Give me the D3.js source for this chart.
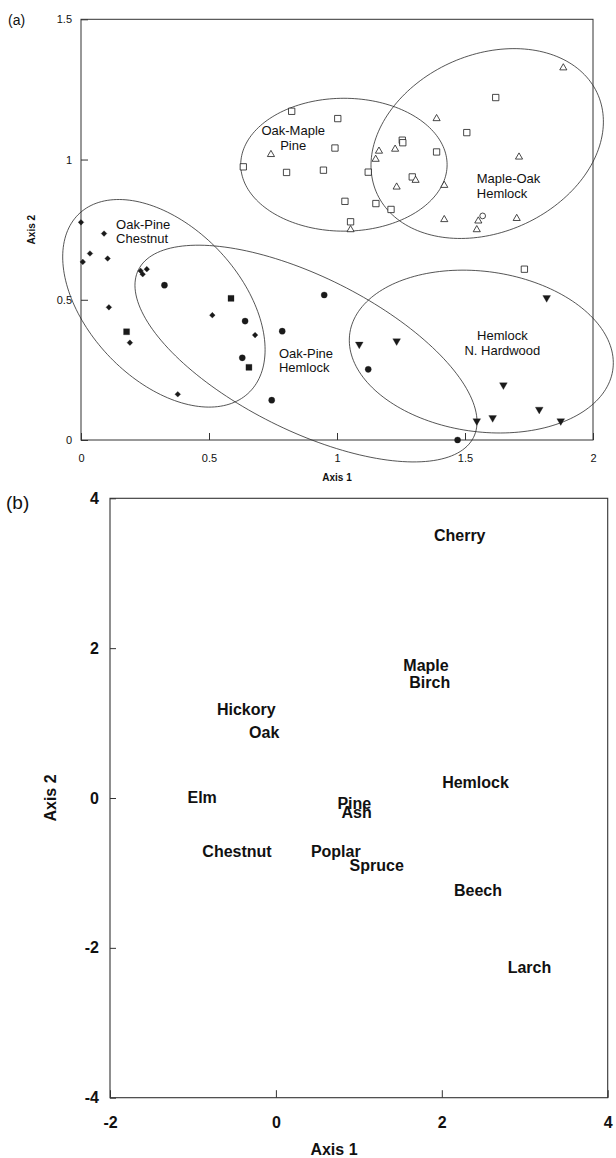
<!DOCTYPE html>
<html><head><meta charset="utf-8">
<script src="https://cdn.jsdelivr.net/npm/d3@7"></script>
<style>
html,body{margin:0;padding:0;background:#fff;}
svg{display:block;}
text{font-family:"Liberation Sans",Arial,Helvetica,sans-serif;fill:#111;}
</style></head><body>
<svg id="c" width="616" height="1158"></svg>
<script>
// ---------- Panel (a) data ----------
const aXTicks = [0, 0.5, 1, 1.5, 2];
const aXLabels = ["0", "0.5", "1", "1.5", "2"];
const aYTicks = [0, 0.5, 1, 1.5];
const aYLabels = ["0", "0.5", "1", "1.5"];

const chestnutDiamonds = [[0.0,0.776],[0.09,0.736],[0.007,0.635],[0.035,0.665],[0.104,0.647],[0.233,0.603],[0.241,0.591],[0.257,0.609],[0.109,0.473],[0.513,0.445],[0.680,0.374],[0.191,0.347],[0.378,0.163]];
const hemlockCircles = [[0.326,0.552],[0.641,0.424],[0.786,0.388],[0.630,0.293],[0.745,0.142],[0.950,0.517],[1.122,0.252],[1.471,0.0]];
const filledSquares = [[0.586,0.505],[0.178,0.386],[0.656,0.259]];
const openSquares = [[0.823,1.172],[0.634,0.974],[0.803,0.954],[1.620,1.221],[1.003,1.146],[1.507,1.096],[1.255,1.069],[1.257,1.060],[0.992,1.041],[1.389,1.027],[0.947,0.962],[1.122,0.955],[1.294,0.938],[1.031,0.851],[1.152,0.843],[1.211,0.822],[1.053,0.778],[1.732,0.609]];
const openTriangles = [[0.742,1.018],[1.884,1.327],[1.389,1.146],[1.164,1.030],[1.227,1.037],[1.151,1.001],[1.711,1.009],[1.307,0.926],[1.419,0.908],[1.233,0.902],[1.419,0.786],[1.552,0.781],[1.702,0.790],[1.053,0.750],[1.546,0.750]];
const openCircles = [[1.569,0.799]];
const invTriangles = [[1.819,0.507],[1.087,0.341],[1.233,0.353],[1.650,0.196],[1.790,0.109],[1.608,0.079],[1.546,0.068],[1.874,0.068]];

// group ellipses: centre, semi-axes, angle (deg) in data space
const ellipseNames = ["Oak-Maple Pine", "Maple-Oak Hemlock", "Oak-Pine Chestnut", "Oak-Pine Hemlock", "Hemlock N. Hardwood"];
const ellipseCx = [1.027, 1.5867, 0.3238, 0.8789, 1.5637];
const ellipseCy = [0.9815, 1.057, 0.4874, 0.3082, 0.3153];
const ellipseA = [0.4031, 0.4671, 0.4612, 0.7198, 0.5179];
const ellipseB = [0.2369, 0.320, 0.2838, 0.2785, 0.2862];
const ellipseAngle = [0, 18.9, -40.8, -23.8, -6.47];

// group labels (two lines each), anchored in data space
const groupLabelLines = [["Oak-Maple","Pine"],["Maple-Oak","Hemlock"],["Oak-Pine","Chestnut"],["Oak-Pine","Hemlock"],["Hemlock","N. Hardwood"]];
const groupLabelX = [0.829, 1.546, 0.137, 0.773, 1.646];
const groupLabelY = [1.087, 0.916, 0.754, 0.293, 0.356];
const groupLabelAnchor = ["middle","start","start","start","middle"];

// ---------- Panel (b) data ----------
const bXTicks = [-2, 0, 2, 4];
const bYTicks = [-4, -2, 0, 2, 4];
const species = ["Cherry","Maple","Birch","Hickory","Oak","Hemlock","Elm","Pine","Ash","Chestnut","Poplar","Spruce","Beech","Larch"];
const speciesX = [2.216, 1.81, 1.855, -0.357, -0.141, 2.406, -0.889, 0.945, 0.974, -0.469, 0.722, 1.215, 2.436, 3.057];
const speciesY = [3.51, 1.764, 1.54, 1.181, 0.882, 0.214, 0.013, -0.067, -0.195, -0.712, -0.712, -0.899, -1.233, -2.258];

// ---------- drawing ----------
const svg = d3.select("#c");
const INK = "#1a1a1a";

// ===== Panel (a) =====
const xA = d3.scaleLinear().domain([0, 2]).range([81, 593]);
const yA = d3.scaleLinear().domain([0, 1.5]).range([440, 19.3]);
const gA = svg.append("g");

gA.append("rect")
  .attr("x", xA(0)).attr("y", yA(1.5))
  .attr("width", xA(2) - xA(0)).attr("height", yA(0) - yA(1.5))
  .attr("fill", "none").attr("stroke", "#333").attr("stroke-width", 1);

const axAx = gA.append("g").attr("transform", `translate(0,${yA(0)})`)
  .call(d3.axisBottom(xA).tickValues(aXTicks).tickFormat((d, i) => aXLabels[i])
    .tickSizeInner(-7).tickSizeOuter(0).tickPadding(14));
const axAy = gA.append("g").attr("transform", `translate(${xA(0)},0)`)
  .call(d3.axisLeft(yA).tickValues(aYTicks).tickFormat((d, i) => aYLabels[i])
    .tickSizeInner(-7).tickSizeOuter(0).tickPadding(9));
[axAx, axAy].forEach(g => {
  g.select(".domain").remove();
  g.attr("font-family", null).attr("font-size", null).attr("color", "#333");
  g.selectAll("text").style("font-size", "11px").attr("fill", INK);
});

// ellipses
const ellLine = d3.line().curve(d3.curveLinearClosed);
ellipseNames.forEach((nm, i) => {
  const phi = ellipseAngle[i] * Math.PI / 180;
  const pts = d3.range(0, 360, 2).map(deg => {
    const t = deg * Math.PI / 180;
    const dx = ellipseA[i] * Math.cos(t) * Math.cos(phi) - ellipseB[i] * Math.sin(t) * Math.sin(phi);
    const dy = ellipseA[i] * Math.cos(t) * Math.sin(phi) + ellipseB[i] * Math.sin(t) * Math.cos(phi);
    return [xA(ellipseCx[i] + dx), yA(ellipseCy[i] + dy)];
  });
  gA.append("path").attr("d", ellLine(pts))
    .attr("fill", "none").attr("stroke", "#2a2a2a").attr("stroke-width", 0.8);
});

// markers
function drawMarkers(data, symType, size, filled, rot) {
  const sym = d3.symbol().type(symType).size(size);
  gA.append("g").selectAll("path").data(data).join("path")
    .attr("d", sym)
    .attr("transform", d => `translate(${xA(d[0])},${yA(d[1])}) rotate(${rot})`)
    .attr("fill", filled ? INK : "#fff")
    .attr("stroke", INK)
    .attr("stroke-width", filled ? 0.3 : 0.8);
}
drawMarkers(openSquares, d3.symbolSquare, 40, false, 0);
drawMarkers(openTriangles, d3.symbolTriangle, 22, false, 0);
drawMarkers(openCircles, d3.symbolCircle, 26, false, 0);
drawMarkers(chestnutDiamonds, d3.symbolSquare, 16, true, 45);
drawMarkers(hemlockCircles, d3.symbolCircle, 30, true, 0);
drawMarkers(filledSquares, d3.symbolSquare, 36, true, 0);
drawMarkers(invTriangles, d3.symbolTriangle, 26, true, 180);

// group labels
groupLabelLines.forEach((lines, i) => {
  const t = gA.append("text")
    .attr("x", xA(groupLabelX[i])).attr("y", yA(groupLabelY[i]))
    .attr("text-anchor", groupLabelAnchor[i])
    .style("font-size", "13px");
  lines.forEach((ln, j) => {
    t.append("tspan").attr("x", xA(groupLabelX[i])).attr("dy", j === 0 ? 0 : 14.5).text(ln);
  });
});

// axis titles (a)
gA.append("text").attr("x", (xA(0) + xA(2)) / 2).attr("y", 480.5)
  .attr("text-anchor", "middle").style("font-size", "10px").style("font-weight", "bold").text("Axis 1");
gA.append("text").attr("transform", `translate(34.6,${(yA(0) + yA(1.5)) / 2}) rotate(-90)`)
  .attr("text-anchor", "middle").style("font-size", "10px").style("font-weight", "bold").text("Axis 2");
gA.append("text").attr("x", 8).attr("y", 24.5).style("font-size", "14px").text("(a)");

// ===== Panel (b) =====
const xB = d3.scaleLinear().domain([-2, 4]).range([110, 607.7]);
const yB = d3.scaleLinear().domain([-4, 4]).range([1097.7, 498.3]);
const gB = svg.append("g");

gB.append("rect")
  .attr("x", xB(-2)).attr("y", yB(4))
  .attr("width", xB(4) - xB(-2)).attr("height", yB(-4) - yB(4))
  .attr("fill", "none").attr("stroke", "#333").attr("stroke-width", 1.1);

const axBx = gB.append("g").attr("transform", `translate(0,${yB(-4)})`)
  .call(d3.axisBottom(xB).tickValues(bXTicks).tickFormat(d3.format("d"))
    .tickSizeInner(-7.5).tickSizeOuter(0).tickPadding(19));
const axBy = gB.append("g").attr("transform", `translate(${xB(-2)},0)`)
  .call(d3.axisLeft(yB).tickValues(bYTicks).tickFormat(d3.format("d"))
    .tickSizeInner(-6).tickSizeOuter(0).tickPadding(11));
[axBx, axBy].forEach(g => {
  g.select(".domain").remove();
  g.attr("font-family", null).attr("font-size", null).attr("color", "#333");
  g.selectAll("text").style("font-size", "16px").style("font-weight", "bold").attr("fill", INK)
    .text(function() { return this.textContent.replace("\u2212", "-"); });
});

gB.append("g").selectAll("text").data(species).join("text")
  .attr("x", (d, i) => xB(speciesX[i]))
  .attr("y", (d, i) => yB(speciesY[i]))
  .attr("dy", "0.35em")
  .attr("text-anchor", "middle")
  .style("font-size", "16px").style("font-weight", "bold")
  .text(d => d);

gB.append("text").attr("x", xB(0.7)).attr("y", 1154.5)
  .attr("text-anchor", "middle").style("font-size", "16px").style("font-weight", "bold").text("Axis 1");
gB.append("text").attr("transform", `translate(55.5,${yB(0)}) rotate(-90)`)
  .attr("text-anchor", "middle").style("font-size", "16px").style("font-weight", "bold").text("Axis 2");
gB.append("text").attr("x", 6).attr("y", 509).style("font-size", "19px").text("(b)");
</script>
</body></html>
